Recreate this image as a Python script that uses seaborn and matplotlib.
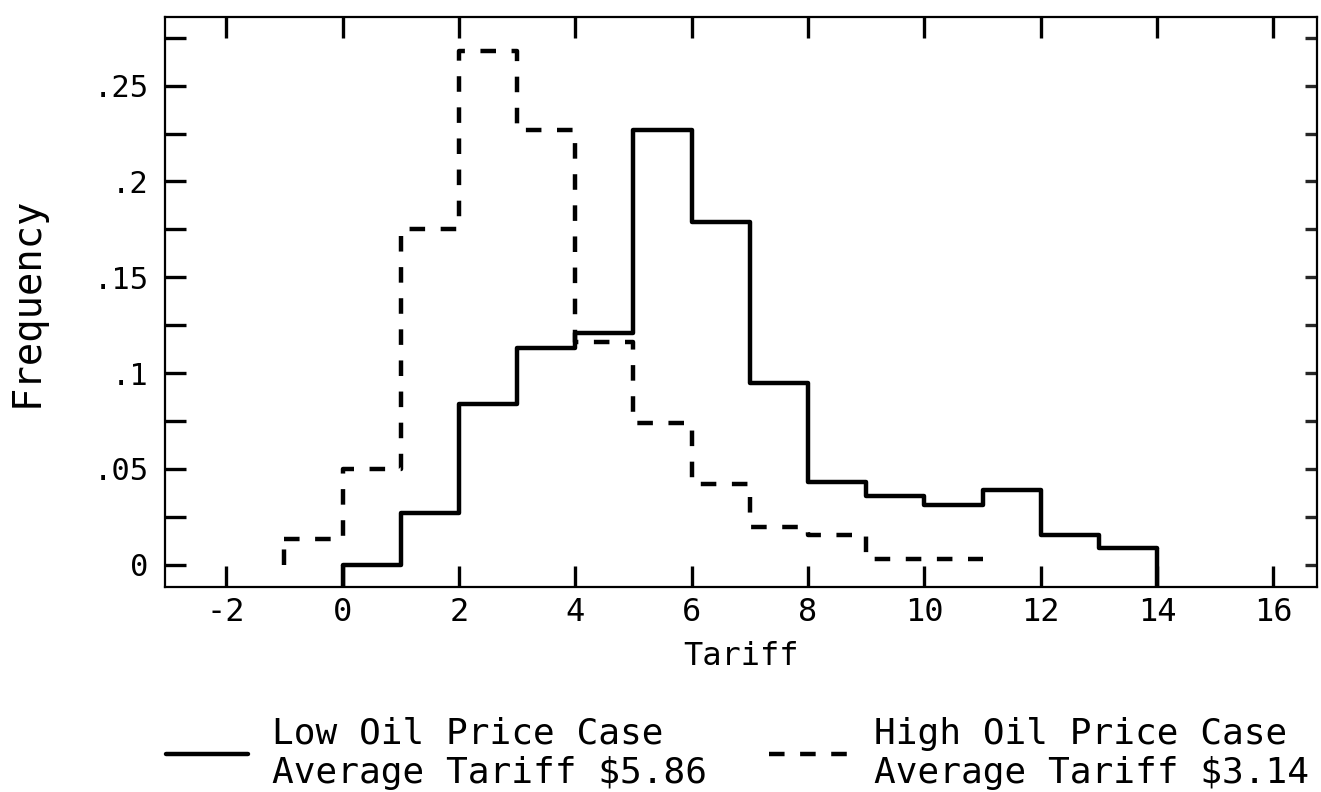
import matplotlib
matplotlib.use("Agg")

import matplotlib.pyplot as plt
import numpy as np
import pandas as pd
import seaborn as sns
from matplotlib.ticker import FixedLocator, MultipleLocator

# bin edges (tariff, $) and relative frequencies
low_edges = [0, 1, 2, 3, 4, 5, 6, 7, 8, 9, 10, 11, 12, 13, 14]
low_freq = [0.0, 0.027, 0.084, 0.113, 0.121, 0.227, 0.179, 0.095,
            0.043, 0.036, 0.031, 0.039, 0.0155, 0.009]

high_edges = [-1, 0, 1, 2, 3, 4, 5, 6, 7, 8, 9, 10, 11]
high_freq = [0.0137, 0.050, 0.175, 0.268, 0.227, 0.116, 0.074, 0.042,
             0.0195, 0.0155, 0.0033, 0.0033]

low_label = "Low Oil Price Case\nAverage Tariff $5.86"
high_label = "High Oil Price Case\nAverage Tariff $3.14"

x_ticks = [-2, 0, 2, 4, 6, 8, 10, 12, 14, 16]
y_ticks = [0, 0.05, 0.10, 0.15, 0.20, 0.25]
y_tick_labels = ["0", ".05", ".1", ".15", ".2", ".25"]

sns.set_theme(style="white")
plt.rcParams["font.family"] = ["DejaVu Sans Mono", "DejaVu Sans"]

FONT = "DejaVu Sans Mono"
LW = 3.2
DASH = (0, (3.5, 3.5))
YMIN, YMAX = -0.0115, 0.286

low_df = pd.DataFrame({"tariff": np.array(low_edges[:-1]) + 0.5, "freq": low_freq})
high_df = pd.DataFrame({"tariff": np.array(high_edges[:-1]) + 0.5, "freq": high_freq})

fig = plt.figure(figsize=(13.21, 7.92), dpi=100)
ax = fig.add_axes([0.125, 0.259, 0.872, 0.72])

sns.histplot(data=low_df, x="tariff", weights="freq", bins=low_edges,
             element="step", fill=False, color="black", linewidth=LW,
             label=low_label, ax=ax)
sns.histplot(data=high_df, x="tariff", weights="freq", bins=high_edges,
             element="step", fill=False, color="black", linewidth=LW,
             linestyle=DASH, label=high_label, ax=ax)

# close the outer edges of the step outlines
ax.vlines(low_edges[0], YMIN, low_freq[0], color="black", linewidth=LW)
ax.vlines(low_edges[-1], YMIN, low_freq[-1], color="black", linewidth=LW)
ax.vlines(high_edges[0], 0, high_freq[0], color="black", linewidth=LW,
          linestyle=DASH)

ax.set_xlim(-3.05, 16.75)
ax.set_ylim(YMIN, YMAX)

ax.xaxis.set_major_locator(FixedLocator(x_ticks))
ax.set_xticklabels([str(t) for t in x_ticks])
ax.set_yticks(y_ticks)
ax.set_yticklabels(y_tick_labels)
ax.yaxis.set_minor_locator(MultipleLocator(0.025))

ax.tick_params(axis="both", which="both", direction="in", length=15, width=2.4,
               color="black", labelcolor="black")
ax.tick_params(axis="x", top=True, bottom=True, pad=7, labelsize=23)
ax.tick_params(axis="y", which="both", left=True, right=False, pad=12,
               labelsize=22)

sec = ax.secondary_yaxis("right")
sec.set_yticks(np.arange(0, 0.28, 0.025))
sec.tick_params(direction="in", length=9, width=2.4, labelright=False)
sec.spines["right"].set_visible(False)

for sp in ax.spines.values():
    sp.set_visible(True)
    sp.set_color("black")
    sp.set_linewidth(1.6)

ax.set_xlabel("Tariff", fontsize=23, family=FONT, color="black", labelpad=10)
ax.set_ylabel("Frequency", fontsize=28, family=FONT, color="black", labelpad=34)
for lab in ax.get_xticklabels() + ax.get_yticklabels():
    lab.set_family(FONT)

handles, labels = ax.get_legend_handles_labels()
fig.legend(handles, labels, loc="upper left", bbox_to_anchor=(0.126, 0.095),
           ncol=2, frameon=False, prop={"family": FONT, "size": 26},
           handlelength=2.25, handletextpad=0.67, columnspacing=1.72,
           borderaxespad=0, borderpad=0, labelcolor="black")

fig.savefig("out.png", dpi=100, facecolor="white")
plt.close(fig)
